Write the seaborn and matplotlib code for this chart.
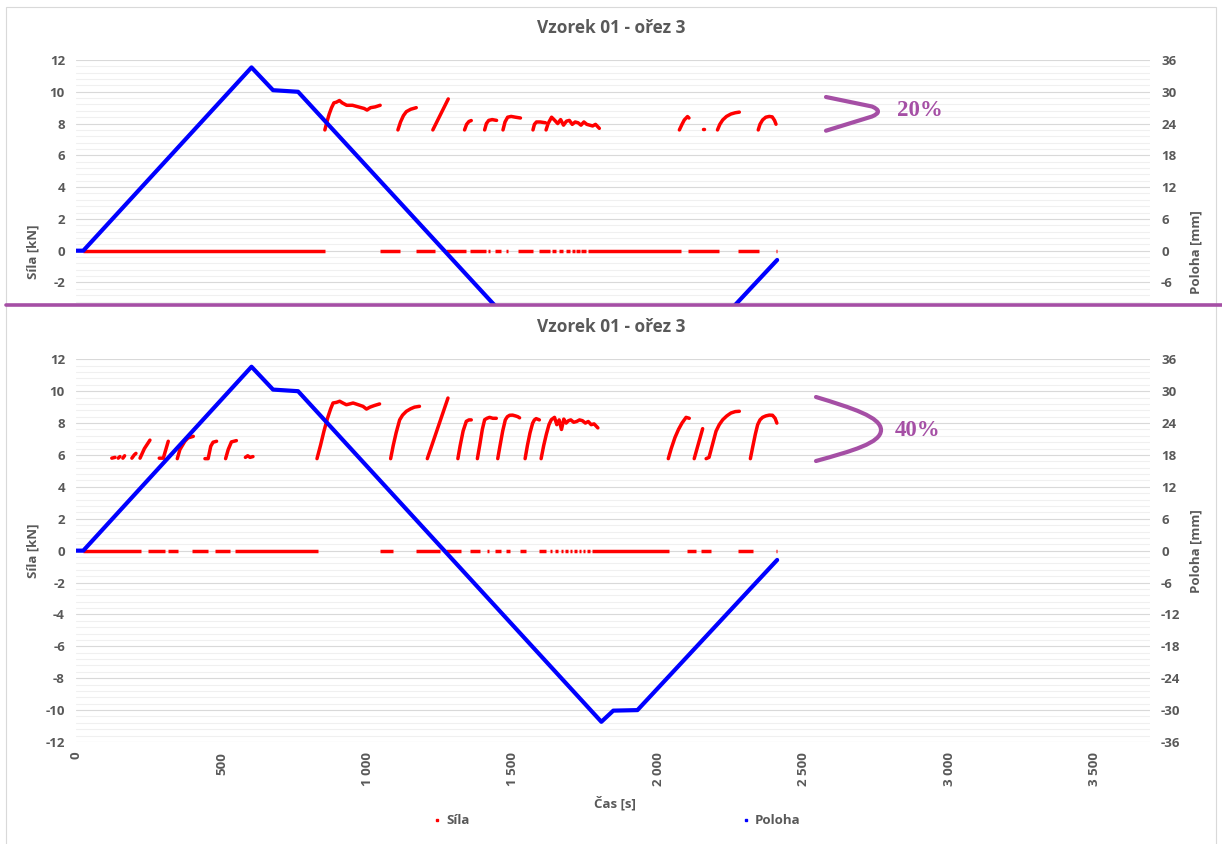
import numpy as np
import pandas as pd
import matplotlib
matplotlib.use("Agg")
import matplotlib.pyplot as plt
import seaborn as sns
from matplotlib.ticker import MultipleLocator
from matplotlib.path import Path
from matplotlib.patches import PathPatch, Rectangle
from matplotlib.lines import Line2D

# ---------------------------------------------------------------- data
title = "Vzorek 01 - ořez 3"
x_label = "Čas [s]"
y_label_left = "Síla [kN]"
y_label_right = "Poloha [mm]"
series_names = ["Síla", "Poloha"]
x_ticks = [0, 500, 1000, 1500, 2000, 2500, 3000, 3500]
x_tick_labels = ["0", "500", "1 000", "1 500", "2 000", "2 500", "3 000", "3 500"]
force_ticks = [-12, -10, -8, -6, -4, -2, 0, 2, 4, 6, 8, 10, 12]
pos_ticks = [-36, -30, -24, -18, -12, -6, 0, 6, 12, 18, 24, 30, 36]
labels_pct = ["20%", "40%"]

# crosshead position (Poloha) [s], [mm]
pos_t = [0, 25, 603, 677, 763, 1805, 1846, 1929, 2409]
pos_mm = [0, 0, 34.6, 30.3, 30.0, -32.2, -30.1, -30.0, -1.75]

# force record, upper panel (20 %): loaded segments as (time, force) runs
force_20 = [
    ([855, 862, 870, 878, 886, 895, 905, 915, 930, 950, 970, 990, 1000, 1012, 1028, 1045],
     [7.6, 8.1, 8.6, 9.0, 9.3, 9.35, 9.45, 9.3, 9.15, 9.15, 9.05, 8.95, 8.85, 9.0, 9.05, 9.15]),
    ([1106, 1115, 1125, 1135, 1150, 1169], [7.6, 8.1, 8.5, 8.75, 8.9, 9.0]),
    ([1226, 1279], [7.6, 9.55]),
    ([1335, 1342, 1350, 1358], [7.6, 7.95, 8.13, 8.19]),
    ([1404, 1410, 1418, 1430, 1445], [7.6, 8.0, 8.2, 8.25, 8.2]),
    ([1467, 1474, 1483, 1495, 1510, 1527], [7.6, 8.1, 8.4, 8.45, 8.4, 8.35]),
    ([1570, 1575, 1582, 1595, 1613], [7.6, 7.95, 8.1, 8.1, 8.05]),
    ([1615, 1622, 1634, 1645, 1655, 1665, 1675, 1685, 1695, 1705, 1715, 1725, 1735,
      1745, 1755, 1765, 1775, 1785, 1798],
     [7.6, 8.0, 8.4, 8.2, 8.0, 8.25, 7.9, 8.15, 8.2, 7.95, 8.1, 8.05, 7.9,
      8.1, 7.95, 7.9, 7.85, 7.95, 7.7]),
    ([2073, 2082, 2090, 2101, 2106], [7.6, 7.95, 8.23, 8.44, 8.35]),
    ([2153, 2158], [7.65, 7.65]),
    ([2204, 2212, 2222, 2235, 2250, 2265, 2279], [7.6, 7.95, 8.23, 8.45, 8.6, 8.68, 8.72]),
    ([2344, 2350, 2359, 2370, 2382, 2392, 2400, 2405], [7.6, 7.95, 8.23, 8.4, 8.45, 8.42, 8.2, 7.96]),
]
# unloaded stretches (force 0) of the upper panel: (start, end) [s]
zero_20 = [(24, 855), (1043, 1112), (1167, 1232), (1272, 1341), (1352, 1409), (1415, 1421),
           (1438, 1461), (1476, 1483), (1518, 1569), (1592, 1627), (1636, 1650), (1661, 1672),
           (1684, 1698), (1705, 1713), (1719, 1730), (1736, 1753), (1758, 2079), (2101, 2210),
           (2273, 2347), (2404, 2410)]

# force record, lower panel (40 %)
force_40 = [
    ([123, 134], [5.8, 5.85]),
    ([145, 151], [5.8, 5.9]),
    ([161, 167], [5.8, 5.95]),
    ([192, 200, 206], [5.8, 6.0, 6.1]),
    ([220, 235, 254], [5.8, 6.4, 6.93]),
    ([286, 300, 308, 317], [5.8, 5.8, 6.3, 6.86]),
    ([348, 357, 374, 385, 403], [5.77, 6.34, 6.86, 7.07, 7.17]),
    ([443, 454, 463, 471, 483], [5.77, 5.77, 6.55, 6.8, 6.86]),
    ([514, 523, 534, 551], [5.77, 6.34, 6.82, 6.9]),
    ([582, 590, 598, 608], [5.85, 5.95, 5.85, 5.9]),
    ([828, 840, 852, 864, 875, 883, 895, 906, 918, 929, 940, 952, 970, 986, 998, 1010, 1025, 1043],
     [5.77, 6.6, 7.5, 8.3, 8.9, 9.26, 9.3, 9.37, 9.25, 9.15, 9.2, 9.26, 9.15, 9.05, 8.88, 9.0, 9.1, 9.2]),
    ([1081, 1090, 1100, 1112, 1122, 1135, 1150, 1163, 1180],
     [5.77, 6.6, 7.4, 8.2, 8.5, 8.74, 8.9, 9.0, 9.05]),
    ([1207, 1278], [5.77, 9.57]),
    ([1312, 1320, 1330, 1341, 1350, 1358], [5.77, 6.6, 7.5, 8.11, 8.2, 8.2]),
    ([1379, 1387, 1396, 1404, 1412, 1421, 1432, 1444], [5.77, 6.6, 7.6, 8.21, 8.3, 8.36, 8.3, 8.3]),
    ([1449, 1457, 1466, 1475, 1482, 1490, 1500, 1510, 1518, 1524],
     [5.77, 6.6, 7.5, 8.2, 8.4, 8.49, 8.5, 8.45, 8.4, 8.33]),
    ([1543, 1551, 1560, 1569, 1575, 1581, 1592], [5.77, 6.6, 7.4, 8.0, 8.2, 8.28, 8.2]),
    ([1598, 1607, 1616, 1625, 1633, 1644, 1652, 1660, 1668, 1676, 1684, 1692, 1700, 1710,
      1720, 1730, 1740, 1750, 1760, 1770, 1780, 1793],
     [5.77, 6.6, 7.3, 7.9, 8.21, 8.36, 7.9, 8.2, 7.6, 8.25, 8.0, 8.15, 8.2, 8.05,
      8.1, 8.2, 8.15, 8.0, 8.1, 7.9, 7.95, 7.7]),
    ([2035, 2045, 2058, 2070, 2082, 2096, 2107], [5.77, 6.4, 7.1, 7.6, 8.0, 8.36, 8.3]),
    ([2124, 2153], [5.77, 7.65]),
    ([2165, 2175, 2186, 2199, 2210, 2222, 2236, 2250, 2265, 2279],
     [5.77, 5.85, 6.6, 7.49, 7.9, 8.21, 8.45, 8.63, 8.72, 8.74]),
    ([2317, 2325, 2334, 2342, 2350, 2359, 2370, 2382, 2393, 2402, 2408],
     [5.77, 6.5, 7.3, 7.9, 8.2, 8.36, 8.45, 8.5, 8.49, 8.3, 8.0]),
]
zero_40 = [(24, 225), (248, 305), (317, 351), (400, 454), (477, 529), (546, 832), (1043, 1089),
           (1169, 1249), (1272, 1324), (1352, 1387), (1413, 1418), (1438, 1461), (1478, 1490),
           (1524, 1547), (1590, 1615), (1627, 1635), (1645, 1655), (1665, 1672), (1680, 1690),
           (1697, 1705), (1712, 1720), (1727, 1735), (1742, 1750), (1757, 1765), (1772, 2039),
           (2098, 2130), (2147, 2182), (2273, 2325), (2404, 2410)]

# ---------------------------------------------------------------- style
sns.set_style("white")
plt.rcParams["font.family"] = ["Open Sans", "DejaVu Sans"]
GRAY = "#595959"
PURPLE = "#A54FA5"
RED = "#FF0000"
BLUE = "#0000FF"
FS = 9.5

W, H = 1222, 844
fig = plt.figure(figsize=(W / 100, H / 100), dpi=100)


def fx(x):
    return x / W


def fy(y):
    return 1 - y / H


def runs_frame(runs, zeros):
    rows = []
    k = 0
    for t, f in runs:
        for a, b in zip(t, f):
            rows.append((k, a, b, "load"))
        k += 1
    for a, b in zeros:
        rows.append((k, a, 0.0, "zero"))
        rows.append((k, b, 0.0, "zero"))
        k += 1
    return pd.DataFrame(rows, columns=["seg", "t", "F", "kind"])


def style_panel(ax, ax2, ylim, show_x):
    ax.set_xlim(0, 3690)
    ax.set_yticks(force_ticks)
    ax.set_yticklabels([str(v) for v in force_ticks])
    ax2.set_yticks(pos_ticks)
    ax2.set_yticklabels([str(v) for v in pos_ticks])
    ax.set_ylim(*ylim)
    ax2.set_ylim(ylim[0] * 3, ylim[1] * 3)
    ax.yaxis.set_minor_locator(MultipleLocator(0.4))
    ax.grid(which="major", axis="y", color="#d9d9d9", lw=0.8)
    ax.grid(which="minor", axis="y", color="#f0f0f0", lw=0.8)
    ax.grid(False, axis="x")
    ax2.grid(False)
    for a in (ax, ax2):
        for s in a.spines.values():
            s.set_visible(False)
        a.set_xlabel("")
        a.set_ylabel("")
    ax.tick_params(axis="y", which="both", length=0, pad=8, labelsize=FS, labelcolor=GRAY)
    ax2.tick_params(axis="y", which="both", length=0, pad=8, labelsize=FS, labelcolor=GRAY)
    for lab in ax.get_yticklabels() + ax2.get_yticklabels():
        lab.set_fontweight("bold")
    if show_x:
        ax.set_xticks(x_ticks)
        ax.set_xticklabels(x_tick_labels, rotation=90, fontweight="bold")
        ax.tick_params(axis="x", length=0, pad=7, labelsize=FS, labelcolor=GRAY)
    else:
        ax.tick_params(axis="x", length=0, labelbottom=False)
    ax.set_xlim(0, 3690)


def draw_panel(rect, runs, zeros, ylim, show_x):
    ax = fig.add_axes(rect)
    ax.set_facecolor("none")
    ax2 = ax.twinx()
    df = runs_frame(runs, zeros)
    sns.lineplot(data=df[df.kind == "zero"], x="t", y="F", units="seg", estimator=None,
                 sort=False, color=RED, lw=2.5, ax=ax, legend=False,
                 solid_capstyle="butt")
    sns.lineplot(data=df[df.kind == "load"], x="t", y="F", units="seg", estimator=None,
                 sort=False, color=RED, lw=2.5, ax=ax, legend=False,
                 solid_capstyle="round", solid_joinstyle="round")
    sns.lineplot(x=pos_t, y=pos_mm, sort=False, color=BLUE, lw=3.0, ax=ax2,
                 legend=False, solid_joinstyle="round")
    style_panel(ax, ax2, ylim, show_x)
    return ax, ax2


# panel geometry (pixels)
x_left, x_right = 76, 1150
top_y12, top_cut = 60, 305
bot_y12, bot_ym12 = 359.3, 742
px_per_kn = (250.7 - top_y12) / 12
top_ymin = -(top_cut - 250.7) / px_per_kn

# chart frame
fig.patches.append(Rectangle((fx(6), fy(850)), fx(1216) - fx(6), fy(7) - fy(850),
                             transform=fig.transFigure, fill=False, ec="#d9d9d9", lw=0.8))

draw_panel([fx(x_left), fy(top_cut), fx(x_right) - fx(x_left), fy(top_y12) - fy(top_cut)],
           force_20, zero_20, (top_ymin, 12), False)
draw_panel([fx(x_left), fy(bot_ym12), fx(x_right) - fx(x_left), fy(bot_y12) - fy(bot_ym12)],
           force_40, zero_40, (-12, 12), True)

# titles and axis labels
for ty in (28, 327):
    fig.text(fx(611), fy(ty), title, ha="center", va="center", fontsize=12.4,
             fontweight="bold", color=GRAY)
for cy in (252, 551):
    fig.text(fx(33), fy(cy), y_label_left, rotation=90, ha="center", va="center",
             fontsize=FS, fontweight="bold", color=GRAY)
    fig.text(fx(1196), fy(cy), y_label_right, rotation=90, ha="center", va="center",
             fontsize=FS, fontweight="bold", color=GRAY)
fig.text(fx(615), fy(803), x_label, ha="center", va="center", fontsize=FS,
         fontweight="bold", color=GRAY)

# legend
handles = [Line2D([], [], ls="", marker="s", ms=2.0, color=RED),
           Line2D([], [], ls="", marker="s", ms=2.0, color=BLUE)]
leg = fig.legend(handles, series_names, loc="center", bbox_to_anchor=(fx(617), fy(821)),
                 ncol=2, frameon=False, columnspacing=20.6, handlelength=0.6,
                 handletextpad=0.4, prop={"size": FS, "weight": "bold"},
                 labelcolor=GRAY)

# separator between the two panels
fig.lines.append(Line2D([fx(6), fx(1222)], [fy(305), fy(305)], transform=fig.transFigure,
                        color=PURPLE, lw=2.6))

# bracket marks with percentages
br_top = Path([(fx(826), fy(97)), (fx(872), fy(106.5)), (fx(884), fy(111.5)), (fx(872), fy(116.5)),
               (fx(826), fy(130.7))],
              [Path.MOVETO, Path.LINETO, Path.CURVE3, Path.CURVE3, Path.LINETO])
br_bot = Path([(fx(816), fy(397)), (fx(852), fy(408)), (fx(881), fy(417)), (fx(881), fy(430)),
               (fx(881), fy(443)), (fx(852), fy(451)), (fx(816), fy(461))],
              [Path.MOVETO, Path.CURVE4, Path.CURVE4, Path.CURVE4,
               Path.CURVE4, Path.CURVE4, Path.CURVE4])
for p in (br_top, br_bot):
    fig.patches.append(PathPatch(p, transform=fig.transFigure, fill=False, ec=PURPLE,
                                 lw=3.0, capstyle="round", joinstyle="round"))
fig.text(fx(920), fy(110), labels_pct[0], ha="center", va="center", fontsize=16.5,
         fontweight="bold", color=PURPLE, family="Liberation Serif")
fig.text(fx(918), fy(430), labels_pct[1], ha="center", va="center", fontsize=16.5,
         fontweight="bold", color=PURPLE, family="Liberation Serif")

fig.savefig("out.png", dpi=100, facecolor="white")
